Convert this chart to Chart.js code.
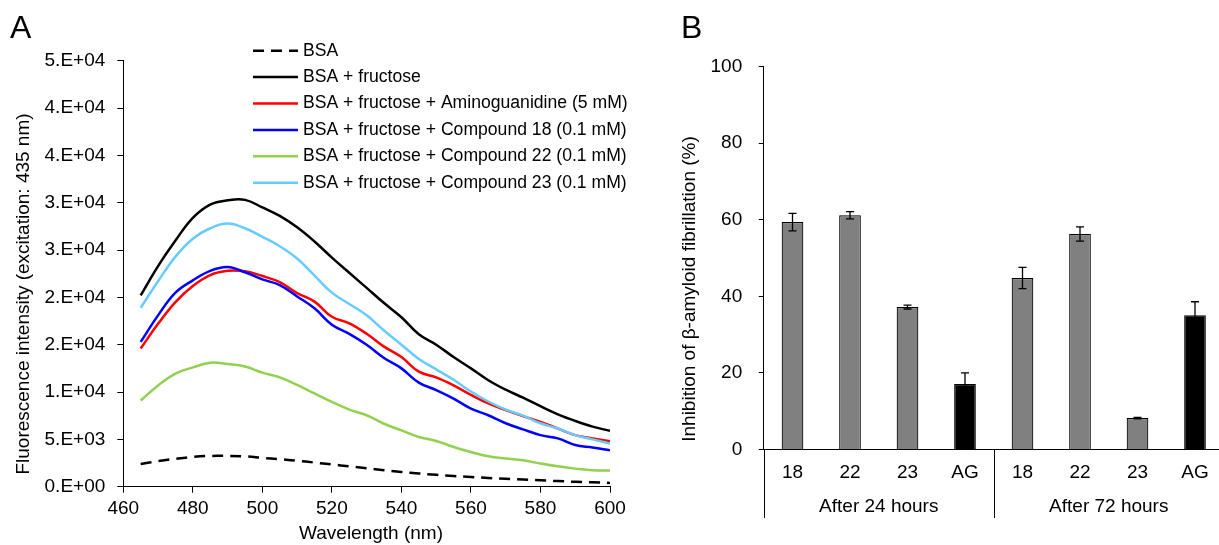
<!DOCTYPE html>
<html><head><meta charset="utf-8">
<script src="https://cdn.jsdelivr.net/npm/chart.js@4/dist/chart.umd.min.js"></script>
<style>
html,body{margin:0;padding:0;background:#fff;overflow:hidden;width:1219px;height:545px;position:relative;}
#a{position:absolute;left:0;top:0;}
#b{position:absolute;left:640px;top:0;}
</style></head><body>
<canvas id="a" width="640" height="545"></canvas>
<canvas id="b" width="600" height="545"></canvas>
<script>
// ---------- Panel A data ----------
const wavelengths = [465,470,475,480,485,490,495,500,505,510,515,520,525,530,535,540,545,550,555,560,565,570,575,580,585,590,595,600];
const bsa            = [2400,2700,2950,3150,3250,3250,3200,3050,2900,2750,2550,2350,2150,1950,1750,1550,1400,1250,1130,1020,920,830,750,670,590,520,460,400];
const bsaFructose    = [20200,23300,26000,28400,29800,30250,30300,29500,28600,27400,25900,24200,22600,21000,19400,17900,16100,15000,13700,12500,11250,10250,9400,8500,7650,6950,6350,5900];
const aminoguanidine = [14600,17200,19500,21200,22350,22800,22750,22250,21600,20450,19550,17950,17250,16150,14800,13700,12150,11550,10700,9700,8800,8100,7450,6850,6150,5450,5100,4800];
const compound18     = [15300,18100,20500,21800,22800,23200,22650,21900,21300,20100,18850,17100,16150,15000,13600,12500,11000,10200,9300,8250,7550,6700,6050,5450,5100,4400,4150,3850];
const compound22     = [9100,10700,11950,12600,13100,12950,12700,12050,11550,10750,9850,8950,8150,7550,6650,5950,5250,4830,4200,3660,3210,2970,2790,2440,2150,1910,1730,1700];
const compound23     = [18900,21700,24300,26200,27300,27800,27300,26400,25400,24100,22300,20500,19300,18100,16500,15000,13500,12400,11300,10050,9000,8150,7500,6700,6150,5450,5000,4550];
const seriesLabelsA  = ['BSA','BSA + fructose','BSA + fructose + Aminoguanidine (5 mM)','BSA + fructose + Compound 18 (0.1 mM)','BSA + fructose + Compound 22 (0.1 mM)','BSA + fructose + Compound 23 (0.1 mM)'];
const yTickLabelsA   = ['0.E+00','5.E+03','1.E+04','2.E+04','2.E+04','3.E+04','3.E+04','4.E+04','4.E+04','5.E+04'];
const xTitleA = 'Wavelength (nm)';
const yTitleA = 'Fluorescence intensity (excitation: 435 nm)';

// ---------- Panel B data ----------
const barCategories = ['18','22','23','AG','18','22','23','AG'];
const barGroups     = ['After 24 hours','After 72 hours'];
const inhibition    = [59.4,61.2,37.2,17.1,44.8,56.3,8.2,35.1];
const inhibitionErr = [2.3,0.95,0.5,2.9,2.8,1.85,0.2,3.5];
const yTitleB = 'Inhibition of \u03b2-amyloid fibrillation (%)';

const FONT = "'Liberation Sans', Arial, Helvetica, sans-serif";
Chart.defaults.font.family = FONT;
Chart.defaults.color = '#000';

const seriesA = [bsa, bsaFructose, aminoguanidine, compound18, compound22, compound23];
const colorsA = ['#000000','#000000','#FF0000','#0000FF','#92D050','#66CCFF'];
const dashesA = [[11,7],[],[],[],[],[]];

const datasetsA = seriesA.map((s, k) => ({
  label: seriesLabelsA[k],
  data: wavelengths.map((w, i) => ({x: w, y: s[i]})),
  borderColor: colorsA[k],
  borderDash: dashesA[k],
  borderWidth: 2.5,
  pointRadius: 0,
  tension: 0.4,
  fill: false,
  order: seriesA.length - k
}));

const axisCommonA = {
  grid: {drawOnChartArea: false, drawTicks: true, tickLength: 6, color: '#000', lineWidth: 1},
  border: {display: true, color: '#000', width: 1}
};

const panelAPlugin = {
  id: 'panelA',
  afterDraw(chart) {
    const ctx = chart.ctx;
    ctx.save();
    ctx.fillStyle = '#000';
    ctx.font = '32px ' + FONT;
    ctx.textAlign = 'left';
    ctx.textBaseline = 'alphabetic';
    ctx.fillText('A', 10, 38);

    ctx.font = '19px ' + FONT;
    ctx.textAlign = 'center';
    ctx.textBaseline = 'middle';
    ctx.fillText(xTitleA, 371, 534);
    ctx.save();
    ctx.translate(24, 294);
    ctx.rotate(-Math.PI / 2);
    ctx.fillText(yTitleA, 0, 0);
    ctx.restore();

    // legend
    ctx.font = '17.6px ' + FONT;
    ctx.textAlign = 'left';
    chart.data.datasets.forEach((ds, k) => {
      const y = 50.7 + k * 26.4;
      ctx.save();
      ctx.strokeStyle = ds.borderColor;
      ctx.lineWidth = 2.5;
      ctx.setLineDash(ds.borderDash || []);
      ctx.beginPath();
      ctx.moveTo(253, y);
      ctx.lineTo(298, y);
      ctx.stroke();
      ctx.restore();
      ctx.fillText(ds.label, 303, y);
    });
    ctx.restore();
  }
};

new Chart(document.getElementById('a'), {
  type: 'line',
  data: {datasets: datasetsA},
  options: {
    responsive: false, animation: false, devicePixelRatio: 1,
    layout: {padding: {top: 60.7, right: 30, bottom: 0, left: 0}},
    plugins: {legend: {display: false}, tooltip: {enabled: false}},
    scales: {
      x: Object.assign({
        type: 'linear', min: 460, max: 600,
        afterFit(s) { s.height = 545 - 486.7; },
        ticks: {stepSize: 20, padding: 5, font: {size: 19}, maxRotation: 0}
      }, axisCommonA),
      y: Object.assign({
        type: 'linear', min: 0, max: 45000,
        afterFit(s) { s.width = 123.3; },
        ticks: {stepSize: 5000, padding: 12, font: {size: 19}, callback: (v, i) => yTickLabelsA[i]}
      }, axisCommonA)
    }
  },
  plugins: [panelAPlugin]
});

// ---------- Panel B ----------
const errorBarsPlugin = {
  id: 'errorBars',
  afterDatasetsDraw(chart) {
    const ctx = chart.ctx;
    const ys = chart.scales.y;
    const meta = chart.getDatasetMeta(0);
    ctx.save();
    ctx.strokeStyle = '#000';
    ctx.lineWidth = 1.3;
    meta.data.forEach((bar, i) => {
      const v = inhibition[i], e = inhibitionErr[i];
      const t = ys.getPixelForValue(v + e), b = ys.getPixelForValue(v - e);
      ctx.beginPath();
      ctx.moveTo(bar.x, t); ctx.lineTo(bar.x, b);
      ctx.moveTo(bar.x - 4, t); ctx.lineTo(bar.x + 4, t);
      ctx.moveTo(bar.x - 4, b); ctx.lineTo(bar.x + 4, b);
      ctx.stroke();
    });
    ctx.restore();
  }
};

const panelBPlugin = {
  id: 'panelB',
  afterDraw(chart) {
    const ctx = chart.ctx;
    const xs = chart.scales.x;
    const ca = chart.chartArea;
    const step = xs.getPixelForValue(1) - xs.getPixelForValue(0);
    const perGroup = barCategories.length / barGroups.length;
    ctx.save();
    ctx.fillStyle = '#000';
    ctx.strokeStyle = '#000';
    ctx.lineWidth = 1;
    for (let g = 0; g < barGroups.length; g++) {
      const left = xs.getPixelForValue(g * perGroup) - step / 2;
      const right = xs.getPixelForValue((g + 1) * perGroup - 1) + step / 2;
      const xl = Math.round(left) + 0.5;
      ctx.beginPath();
      ctx.moveTo(xl, ca.bottom);
      ctx.lineTo(xl, 518);
      ctx.stroke();
      ctx.font = '19px ' + FONT;
      ctx.textAlign = 'center';
      ctx.textBaseline = 'middle';
      ctx.fillText(barGroups[g], (left + right) / 2, 506.7);
    }
    ctx.font = '32px ' + FONT;
    ctx.textAlign = 'left';
    ctx.textBaseline = 'alphabetic';
    ctx.fillText('B', 41, 38);
    ctx.font = '19px ' + FONT;
    ctx.textAlign = 'center';
    ctx.textBaseline = 'middle';
    ctx.translate(50, 289);
    ctx.rotate(-Math.PI / 2);
    ctx.fillText(yTitleB, 0, 0);
    ctx.restore();
  }
};

new Chart(document.getElementById('b'), {
  type: 'bar',
  data: {
    labels: barCategories,
    datasets: [{
      data: inhibition,
      backgroundColor: c => barCategories[c.dataIndex] === 'AG' ? '#000000' : '#808080',
      borderColor: '#000',
      borderWidth: 1.2,
      categoryPercentage: 1,
      barPercentage: 0.377
    }]
  },
  options: {
    responsive: false, animation: false, devicePixelRatio: 1,
    layout: {padding: {top: 66.7, right: 16.25, bottom: 0, left: 0}},
    plugins: {legend: {display: false}, tooltip: {enabled: false}},
    scales: {
      x: {
        afterFit(s) { s.height = 545 - 449.5; },
        grid: {display: false, drawTicks: false},
        border: {display: true, color: '#000', width: 1},
        ticks: {padding: 11.4, font: {size: 19}, maxRotation: 0, autoSkip: false}
      },
      y: {
        min: 0, max: 100,
        afterFit(s) { s.width = 123.75; },
        ticks: {stepSize: 20, padding: 16.5, font: {size: 19}},
        grid: {drawOnChartArea: false, drawTicks: true, tickLength: 5, color: '#000'},
        border: {display: true, color: '#000', width: 1}
      }
    }
  },
  plugins: [errorBarsPlugin, panelBPlugin]
});
</script>
</body></html>
